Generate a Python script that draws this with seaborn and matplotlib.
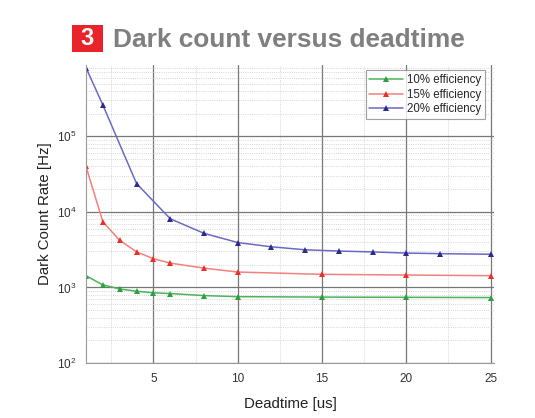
import matplotlib
matplotlib.use("Agg")
import matplotlib.pyplot as plt
import matplotlib.ticker as mticker
from matplotlib.patches import Rectangle
import seaborn as sns
import pandas as pd

sns.set_style("white")
plt.rcParams['font.family'] = ['Liberation Sans', 'DejaVu Sans']

series_names = ["10% efficiency", "15% efficiency", "20% efficiency"]
x_green = [1, 2, 3, 4, 5, 6, 8, 10, 15, 20, 25]
y_green = [1430, 1080, 955, 890, 850, 830, 780, 755, 745, 740, 735]
x_red = [1, 2, 3, 4, 5, 6, 8, 10, 15, 20, 25]
y_red = [40000, 7400, 4200, 2960, 2400, 2100, 1800, 1600, 1490, 1460, 1430]
x_blue = [1, 2, 4, 6, 8, 10, 12, 14, 16, 18, 20, 22, 25]
y_blue = [810000, 260000, 23700, 8100, 5200, 3930, 3450, 3150, 3030, 2950, 2850, 2800, 2750]
x_ticks = [5, 10, 15, 20, 25]

df = pd.concat([
    pd.DataFrame({"Deadtime": x_green, "Rate": y_green, "Series": series_names[0]}),
    pd.DataFrame({"Deadtime": x_red, "Rate": y_red, "Series": series_names[1]}),
    pd.DataFrame({"Deadtime": x_blue, "Rate": y_blue, "Series": series_names[2]}),
], ignore_index=True)

line_colors = {series_names[0]: "#4cb35a", series_names[1]: "#f47f7f", series_names[2]: "#6a6ac4"}
marker_colors = {series_names[0]: "#2f9e3f", series_names[1]: "#e8302a", series_names[2]: "#2b2b8a"}

fig = plt.figure(figsize=(5.35, 4.18), dpi=100)
ax = fig.add_axes([0.1607, 0.1316, 0.7625, 0.713])

sns.lineplot(data=df, x="Deadtime", y="Rate", hue="Series", palette=line_colors,
             ax=ax, linewidth=1.1, legend=False, sort=True)
for name in series_names:
    sub = df[df["Series"] == name]
    ax.plot(sub["Deadtime"], sub["Rate"], linestyle="none", marker="^", markersize=4,
            color=marker_colors[name], markeredgewidth=0)

ax.set_yscale("log")
ax.set_xlim(1, 25.2)
ax.set_ylim(100, 8.8e5)
ax.set_xticks(x_ticks)
ax.xaxis.set_minor_locator(mticker.MultipleLocator(2.5))
ax.yaxis.set_minor_locator(mticker.LogLocator(base=10, subs=range(2, 10), numticks=20))
ax.yaxis.set_minor_formatter(mticker.NullFormatter())

ax.grid(which="major", color="#777777", linewidth=0.9, linestyle="-")
ax.grid(which="minor", color="#c8c8c8", linewidth=0.6, linestyle=":")
ax.set_axisbelow(True)

for s in ax.spines.values():
    s.set_color("#999999")
    s.set_linewidth(0.8)
ax.spines["top"].set_visible(False)
ax.spines["right"].set_visible(False)

ax.tick_params(axis="both", which="major", direction="out", length=4, width=0.8,
               color="#888888", labelsize=8.5, labelcolor="#333333", pad=3)
ax.tick_params(axis="both", which="minor", direction="out", length=2, width=0.6, color="#888888")

ax.set_xlabel("Deadtime [us]", fontsize=10.8, color="#222222", labelpad=9)
ax.set_ylabel("Dark Count Rate [Hz]", fontsize=10.8, color="#222222", labelpad=3)

handles = [plt.Line2D([0], [0], color=line_colors[n], linewidth=1.1, marker="^", markersize=4,
                      markerfacecolor=marker_colors[n], markeredgewidth=0) for n in series_names]
leg = ax.legend(handles, series_names, loc="upper right", bbox_to_anchor=(0.984, 0.99),
                fontsize=8.3, frameon=True, fancybox=False, handlelength=2.9,
                borderpad=0.3, labelspacing=0.25, handletextpad=0.4, borderaxespad=0.2)
leg.get_frame().set_edgecolor("#888888")
leg.get_frame().set_linewidth(0.8)

fig.patches.append(Rectangle((72 / 535, 1 - 52 / 418), 31 / 535, 27 / 418,
                             transform=fig.transFigure, facecolor="#e8232a", edgecolor="none"))
fig.text(87.5 / 535, 1 - 38.5 / 418, "3", color="white", fontsize=17, fontweight="bold",
         ha="center", va="center")
fig.text(113 / 535, 1 - 40 / 418, "Dark count versus deadtime", color="#7f7f7f",
         fontsize=18.9, fontweight="bold", ha="left", va="center")

fig.savefig("out.png", dpi=100)
